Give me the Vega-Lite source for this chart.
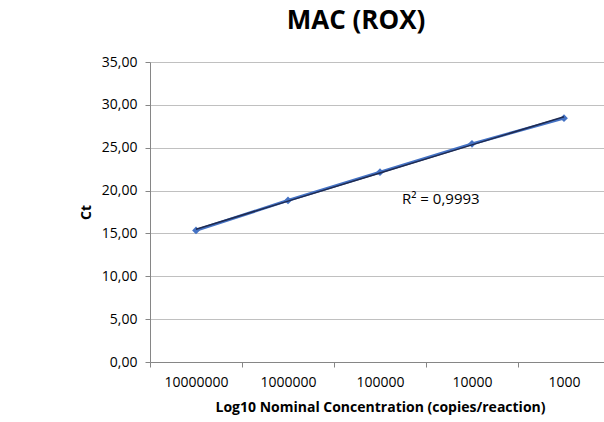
{
  "$schema": "https://vega.github.io/schema/vega-lite/v6.json",
  "width": 460,
  "height": 300,
  "autosize": "none",
  "padding": {"left": 150, "top": 62, "right": 0, "bottom": 60},
  "background": "white",
  "config": {
    "view": {"stroke": null},
    "font": "Open Sans"
  },
  "title": {
    "text": "MAC (ROX)",
    "fontSize": 26,
    "fontWeight": "bold",
    "font": "Open Sans",
    "color": "#000000",
    "offset": 21,
    "dx": -24
  },
  "data": {
    "values": [
      {"conc": "10000000", "ct": 15.35, "fit": 15.49},
      {"conc": "1000000", "ct": 18.85, "fit": 18.77},
      {"conc": "100000", "ct": 22.15, "fit": 22.05},
      {"conc": "10000", "ct": 25.45, "fit": 25.33},
      {"conc": "1000", "ct": 28.45, "fit": 28.61}
    ]
  },
  "encoding": {
    "x": {
      "field": "conc",
      "type": "ordinal",
      "sort": null,
      "scale": {"type": "band", "paddingInner": 0, "paddingOuter": 0},
      "axis": {
        "title": "Log10 Nominal Concentration (copies/reaction)",
        "titleFontSize": 14,
        "titleFontWeight": "bold",
        "titleColor": "#000000",
        "titlePadding": 11,
        "labelAngle": 0,
        "labelFontSize": 14,
        "labelColor": "#000000",
        "labelPadding": 8,
        "tickBand": "extent",
        "tickSize": 5,
        "tickColor": "#868686",
        "domainColor": "#868686",
        "grid": false
      }
    }
  },
  "layer": [
    {
      "mark": {"type": "line", "color": "#4472C4", "strokeWidth": 3},
      "encoding": {
        "y": {
          "field": "ct",
          "type": "quantitative",
          "scale": {"domain": [0, 35], "nice": false},
          "axis": {
            "title": "Ct",
            "titleFontSize": 14,
            "titleFontWeight": "bold",
            "titleColor": "#000000",
            "titlePadding": 8,
            "values": [0, 5, 10, 15, 20, 25, 30, 35],
            "labelExpr": "replace(format(datum.value, '.2f'), '.', ',')",
            "labelFontSize": 14,
            "labelColor": "#000000",
            "labelPadding": 8,
            "tickSize": 5,
            "tickColor": "#868686",
            "domainColor": "#868686",
            "gridColor": "#C0C0C0",
            "gridWidth": 1
          }
        }
      }
    },
    {
      "mark": {"type": "point", "shape": "diamond", "filled": true, "color": "#4472C4", "size": 60, "opacity": 1},
      "encoding": {"y": {"field": "ct", "type": "quantitative"}}
    },
    {
      "mark": {"type": "line", "color": "#1F2A4F", "strokeWidth": 1.5},
      "encoding": {"y": {"field": "fit", "type": "quantitative"}}
    },
    {
      "data": {"values": [{"conc": "10000", "ct": 19.0, "label": "R² = 0,9993"}]},
      "mark": {"type": "text", "align": "left", "baseline": "middle", "dx": -70, "fontSize": 15, "color": "#000000"},
      "encoding": {
        "y": {"field": "ct", "type": "quantitative"},
        "text": {"field": "label"}
      }
    }
  ]
}
